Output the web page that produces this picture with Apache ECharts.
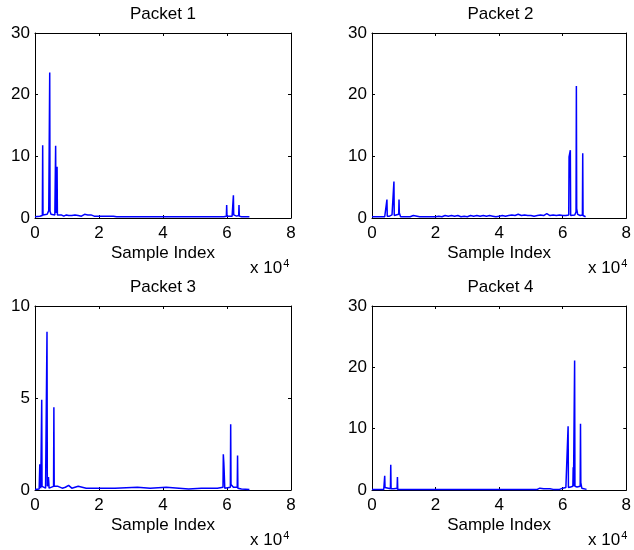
<!DOCTYPE html>
<html>
<head>
<meta charset="utf-8">
<script src="https://cdn.jsdelivr.net/npm/echarts@6/dist/echarts.min.js"></script>
<style>
html,body{margin:0;padding:0;background:#fff;}
#c{width:634px;height:550px;}
</style>
</head>
<body>
<div id="c"></div>
<script>
// ---- data (sample index, amplitude) ----
const titles = ["Packet 1", "Packet 2", "Packet 3", "Packet 4"];
const yMax = [30, 30, 10, 30];
const yStep = [10, 10, 5, 10];

const p1X = [0,1500,2000,2300,2400,2500,3000,3800,4300,4500,4600,4700,5000,5600,6200,6350,6450,6550,6800,6900,7000,7500,8200,9000,9800,10500,11000,11500,12000,12500,13000,13500,14000,14500,15000,15500,16000,16500,17000,17500,18000,18500,19000,19500,20000,20500,21000,21500,22000,22500,23000,23500,24000,24500,25000,25500,30000,35000,40000,45000,50000,55000,59000,59800,59900,60000,60400,61600,61900,62000,62100,62600,63000,63650,63750,63850,64500,67000];
const p1Y = [0.2,0.3,0.6,0.4,11.8,0.5,0.4,0.6,1.2,1.0,23.6,1.1,0.6,0.4,0.5,0.6,11.7,0.8,0.8,8.3,0.5,0.4,0.5,0.3,0.5,0.4,0.6,0.4,0.6,0.5,0.7,0.4,0.6,0.3,0.5,0.6,0.4,0.5,0.3,0.5,0.4,0.3,0.5,0.3,0.4,0.3,0.5,0.3,0.4,0.3,0.5,0.3,0.4,0.3,0.5,0.2,0.2,0.2,0.2,0.2,0.2,0.2,0.2,0.3,2.1,0.3,0.2,0.3,0.4,3.7,0.5,0.4,0.3,0.4,2.1,0.3,0.2,0.2];

const p2X = [0,4000,4600,4700,4800,5500,6300,6800,6900,7000,7600,8400,8500,8600,9000,12000,13000,13500,15000,15500,16000,17000,17500,18000,20000,20500,21000,22000,23000,24000,25000,26000,27000,28000,29000,30000,31000,32000,33000,34000,35000,36000,37000,38000,39000,40000,41000,42000,42500,43000,44000,45000,46000,47000,48000,49000,50000,51000,52000,53000,54000,55000,55500,56000,57000,58000,59000,60000,61000,61900,62000,62200,62400,62500,63800,64200,64300,64400,64700,65500,66200,66300,66400,67200];
const p2Y = [0.2,0.2,0.3,3.0,0.3,0.3,0.5,0.4,5.9,0.4,0.3,0.6,3.0,0.8,0.2,0.2,0.4,0.2,0.2,0.4,0.2,0.2,0.4,0.2,0.2,0.4,0.3,0.2,0.4,0.3,0.4,0.3,0.4,0.2,0.3,0.2,0.4,0.3,0.4,0.3,0.4,0.3,0.4,0.3,0.2,0.3,0.4,0.3,0.5,0.4,0.5,0.4,0.6,0.4,0.5,0.4,0.4,0.3,0.4,0.5,0.4,0.7,0.5,0.4,0.5,0.4,0.5,0.4,0.4,0.5,9.9,10.2,11.0,0.4,0.5,1.0,21.4,1.5,0.6,0.4,0.5,10.5,0.4,0.2];

const p3X = [0,1300,1500,1650,1800,2000,2100,2200,3300,3650,3750,3850,4200,4400,5000,5800,5900,6000,6500,7200,7500,8500,9500,10000,10500,11000,11500,12500,13000,13500,14000,16000,20000,25000,32000,32500,36000,41000,41500,45000,48000,48500,52000,57000,58750,58850,59000,59100,59300,61050,61150,61250,61600,62000,63200,63300,63400,64500,67000];
const p3Y = [0.03,0.05,1.4,1.3,0.1,0.2,4.9,0.2,0.1,0.2,8.6,0.2,0.7,0.1,0.1,0.2,4.5,0.2,0.1,0.2,0.1,0.1,0.15,0.2,0.25,0.2,0.1,0.15,0.1,0.2,0.1,0.1,0.1,0.1,0.15,0.1,0.1,0.15,0.1,0.1,0.05,0.1,0.1,0.1,0.15,1.94,1.5,1.1,0.1,0.15,3.57,0.3,0.25,0.15,0.15,1.87,0.1,0.05,0.03];

const p4X = [0,3700,3900,4000,4100,4300,4500,5800,5900,6000,6500,6900,7900,8000,8100,43000,43500,43700,45800,46000,46200,52000,52300,52800,53300,54000,54500,55000,55500,56000,56500,57000,58000,58500,59000,60000,61000,61600,61700,61800,62500,63200,63300,63400,63650,63750,63850,64500,65000,65500,65600,65700,66000,67500];
const p4Y = [0.1,0.1,0.3,2.3,0.4,0.7,0.1,0.2,4.1,0.2,0.4,0.2,0.3,2.1,0.1,0.1,0.4,0.1,0.1,0.3,0.1,0.1,0.4,0.3,0.4,0.2,0.4,0.2,0.4,0.2,0.3,0.1,0.1,0.4,0.1,0.3,0.4,0.5,10.4,0.4,0.5,0.6,3.7,0.6,0.6,21.1,0.6,0.5,0.6,0.6,10.8,1.2,0.3,0.1];

const seriesX = [p1X, p2X, p3X, p4X];
const seriesY = [p1Y, p2Y, p3Y, p4Y];

// ---- layout ----
const FONT = "'Liberation Sans', Arial, Helvetica, sans-serif";
const FS = 17;
const grids = [
  {left: 35, top: 33, width: 256, height: 185},
  {left: 372, top: 33, width: 257, height: 185},
  {left: 35, top: 306, width: 256, height: 184},
  {left: 372, top: 306, width: 257, height: 184}
];

const chart = echarts.init(document.getElementById('c'), null, {renderer: 'canvas'});
const lineStyle = {color: '#000', width: 1};
const xAxis = [], yAxis = [], series = [], graphic = [];

grids.forEach((g, i) => {
  const base = {
    gridIndex: i, type: 'value', min: 0, max: 80000, interval: 20000,
    axisLine: {show: true, onZero: false, lineStyle},
    axisTick: {show: true, inside: true, length: 3, lineStyle},
    splitLine: {show: false}
  };
  xAxis.push(Object.assign({}, base, {
    position: 'bottom',
    name: 'Sample Index', nameLocation: 'middle', nameGap: 27,
    nameTextStyle: {color: '#000', fontSize: FS, fontFamily: FONT},
    axisLabel: {color: '#000', fontSize: FS, fontFamily: FONT, margin: 7,
      formatter: v => String(v / 10000)}
  }));
  xAxis.push(Object.assign({}, base, {position: 'top', axisLabel: {show: false}}));
  const yb = {
    gridIndex: i, type: 'value', min: 0, max: yMax[i], interval: yStep[i],
    axisLine: {show: true, onZero: false, lineStyle},
    axisTick: {show: true, inside: true, length: 3, lineStyle},
    splitLine: {show: false}
  };
  yAxis.push(Object.assign({}, yb, {
    position: 'left',
    axisLabel: {color: '#000', fontSize: FS, fontFamily: FONT, margin: 5}
  }));
  yAxis.push(Object.assign({}, yb, {position: 'right', axisLabel: {show: false}}));

  series.push({
    type: 'line', xAxisIndex: 2 * i, yAxisIndex: 2 * i,
    data: seriesX[i].map((x, k) => [x, seriesY[i][k]]),
    showSymbol: false, symbol: 'none', sampling: null,
    lineStyle: {color: '#0000ff', width: 1.5}, silent: true
  });

  graphic.push({
    type: 'text', x: g.left + g.width / 2, y: g.top - 19,
    style: {text: titles[i], fill: '#000', font: FS + 'px ' + FONT,
      align: 'center', verticalAlign: 'middle'}
  });
  graphic.push({
    type: 'text', x: g.left + g.width - 41, y: g.top + g.height + 40,
    style: {
      text: 'x 10{s|4}', fill: '#000', font: FS + 'px ' + FONT,
      rich: {s: {fontSize: 11, fontFamily: FONT, fill: '#000', verticalAlign: 'top', padding: [0, 0, 10, 1]}}
    }
  });
});

chart.setOption({
  animation: false,
  backgroundColor: '#fff',
  grid: grids,
  xAxis, yAxis, series, graphic
});
</script>
</body>
</html>
